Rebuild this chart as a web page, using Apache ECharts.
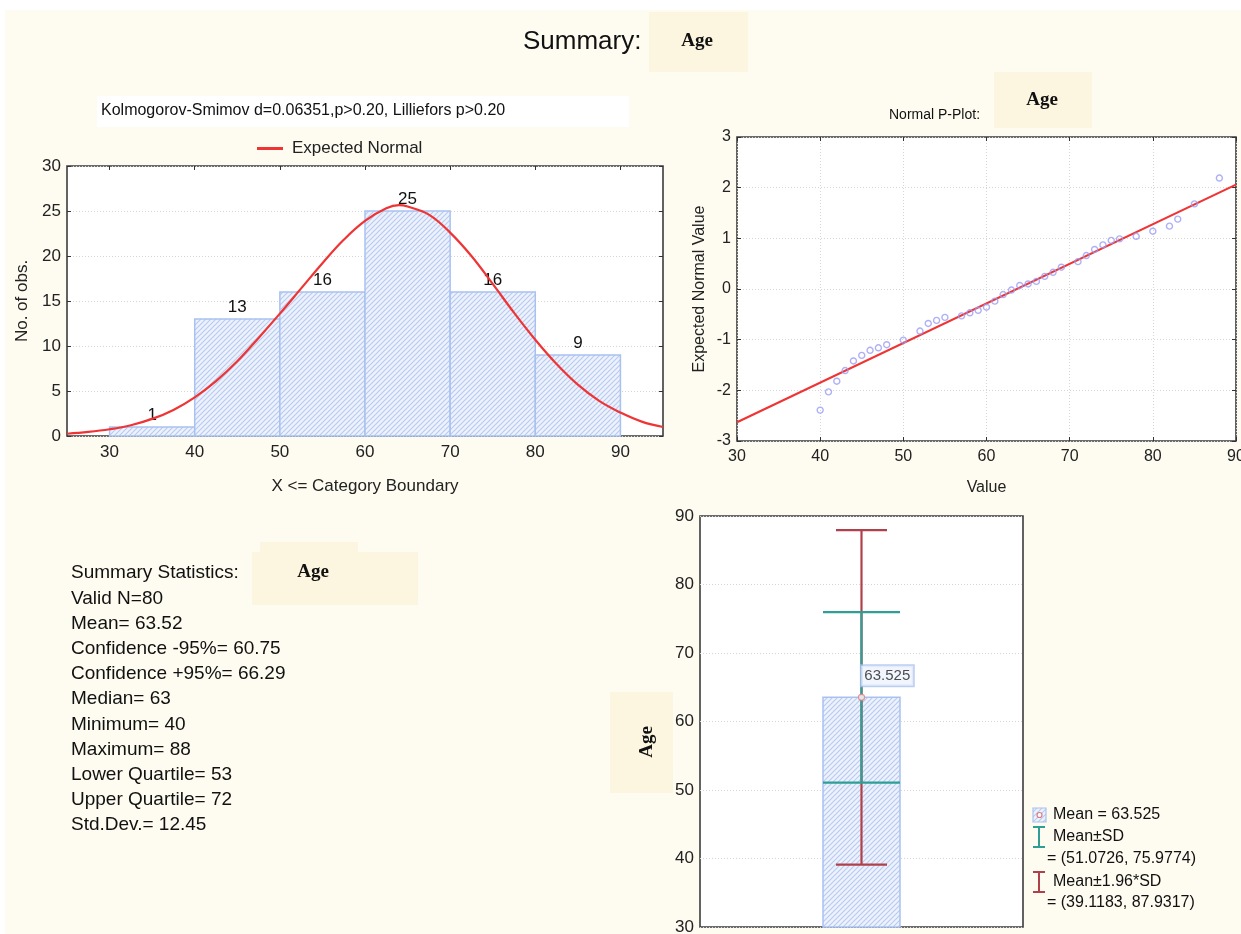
<!DOCTYPE html>
<html>
<head>
<meta charset="utf-8">
<script src="https://cdn.jsdelivr.net/npm/echarts@6/dist/echarts.min.js"></script>
<style>
html,body{margin:0;padding:0;background:#fff;}
#chart{width:1241px;height:934px;}
</style>
</head>
<body>
<div id="chart"></div>
<script>
// ---------- data ----------
const binStart = [30, 40, 50, 60, 70, 80];
const binEnd   = [40, 50, 60, 70, 80, 90];
const binCount = [1, 13, 16, 25, 16, 9];
const histXTicks = [30, 40, 50, 60, 70, 80, 90];

const normalX = [25, 27.5, 30, 32.5, 35, 37.5, 40, 42.5, 45, 47.5, 50, 52.5, 55, 57.5, 60, 62.5, 64, 65, 67.5, 70, 72.5, 75, 77.5, 80, 82.5, 85, 87.5, 90, 92.5, 95];
const normalY = [0.25, 0.45, 0.75, 1.2, 1.9, 2.9, 4.3, 6.1, 8.3, 10.9, 13.6, 16.4, 19.2, 21.8, 23.9, 25.3, 25.65, 25.5, 24.6, 22.6, 20.0, 16.9, 13.7, 10.7, 8.0, 5.7, 3.9, 2.6, 1.6, 1.0];

const ppX = [40, 41, 42, 43, 44, 45, 46, 47, 48, 50, 52, 53, 54, 55, 57, 58, 59, 60, 61, 62, 63, 64, 65, 66, 67, 68, 69, 71, 72, 73, 74, 75, 76, 78, 80, 82, 83, 85, 88];
const ppY = [-2.39, -2.03, -1.82, -1.61, -1.42, -1.31, -1.21, -1.16, -1.10, -1.01, -0.83, -0.68, -0.62, -0.56, -0.53, -0.47, -0.42, -0.36, -0.24, -0.11, -0.02, 0.07, 0.10, 0.15, 0.25, 0.33, 0.43, 0.54, 0.66, 0.78, 0.87, 0.96, 0.99, 1.04, 1.14, 1.24, 1.38, 1.68, 2.19];
const ppLineX = [30, 90];
const ppLineY = [-2.63, 2.06];

const meanAge = 63.525;
const sdRange = [51.0726, 75.9774];
const ciRange = [39.1183, 87.9317];

const statsLines = [
  'Summary Statistics:',
  'Valid N=80',
  'Mean= 63.52',
  'Confidence -95%= 60.75',
  'Confidence +95%= 66.29',
  'Median= 63',
  'Minimum= 40',
  'Maximum= 88',
  'Lower Quartile= 53',
  'Upper Quartile= 72',
  'Std.Dev.= 12.45'
];

// ---------- styles ----------
const SANS = 'Liberation Sans, Arial, sans-serif';
const SERIF = 'Liberation Serif, Times New Roman, serif';
const RED = '#ee3434';
const DARKRED = '#b0414b';
const TEAL = '#2f9f96';
const FRAME = '#3c3c3c';
const GRIDLINE = {show: true, lineStyle: {color: '#d6d6d6', type: [1, 2], width: 1}};
const NOLINE = {show: false, onZero: false};

function hatchCanvas() {
  const c = document.createElement('canvas');
  c.width = 5; c.height = 5;
  const g = c.getContext('2d');
  g.fillStyle = '#edf2fd';
  g.fillRect(0, 0, 5, 5);
  g.strokeStyle = '#b9cbf1';
  g.lineWidth = 1.2;
  g.beginPath();
  g.moveTo(-1, 6); g.lineTo(6, -1);
  g.moveTo(-1, 1); g.lineTo(1, -1);
  g.moveTo(4, 6); g.lineTo(6, 4);
  g.stroke();
  return c;
}
const hatch = {image: hatchCanvas(), repeat: 'repeat'};

const tickStyle = {inside: true, length: 4, lineStyle: {color: '#333', width: 1}};
const labelStyle = {color: '#222', fontSize: 17, fontFamily: SANS};

const chart = echarts.init(document.getElementById('chart'), null, {renderer: 'canvas'});

function errorBar(lo, hi, capHalf, color) {
  return function (params, api) {
    const pLo = api.coord([api.value(0), lo]);
    const pHi = api.coord([api.value(0), hi]);
    const x = pLo[0];
    const st = {stroke: color, lineWidth: 2.2};
    return {
      type: 'group',
      children: [
        {type: 'line', shape: {x1: x, y1: pLo[1], x2: x, y2: pHi[1]}, style: st},
        {type: 'line', shape: {x1: x - capHalf, y1: pLo[1], x2: x + capHalf, y2: pLo[1]}, style: st},
        {type: 'line', shape: {x1: x - capHalf, y1: pHi[1], x2: x + capHalf, y2: pHi[1]}, style: st}
      ]
    };
  };
}

const gridBase = {show: true, backgroundColor: '#fff', borderColor: FRAME, borderWidth: 1.6, containLabel: false, outerBoundsMode: 'none'};

const option = {
  backgroundColor: '#fefbf0',
  animation: false,
  textStyle: {fontFamily: SANS},
  legend: {
    data: ['Expected Normal'],
    left: 252, top: 135,
    icon: 'rect', itemWidth: 26, itemHeight: 3,
    textStyle: {fontSize: 17, color: '#222', fontFamily: SANS, padding: [0, 0, 0, 4]}
  },
  grid: [
    Object.assign({left: 67, top: 166, width: 596, height: 270}, gridBase),
    Object.assign({left: 737, top: 137, width: 499, height: 304}, gridBase),
    Object.assign({left: 700, top: 516, width: 323, height: 411}, gridBase)
  ],
  xAxis: [
    {gridIndex: 0, type: 'value', min: 25, max: 95,
      axisLine: NOLINE, splitLine: {show: false},
      axisTick: Object.assign({customValues: histXTicks}, tickStyle),
      axisLabel: Object.assign({customValues: histXTicks, margin: 8}, labelStyle),
      name: 'X <= Category Boundary', nameLocation: 'middle', nameGap: 42,
      nameTextStyle: {fontSize: 17, color: '#222', fontFamily: SANS}},
    {gridIndex: 0, type: 'value', position: 'top', min: 25, max: 95,
      axisLine: NOLINE, splitLine: {show: false}, axisLabel: {show: false},
      axisTick: Object.assign({customValues: histXTicks}, tickStyle)},
    {gridIndex: 1, type: 'value', position: 'bottom', min: 30, max: 90, interval: 10,
      axisLine: NOLINE, splitLine: GRIDLINE, axisTick: tickStyle,
      axisLabel: Object.assign({margin: 8}, labelStyle, {fontSize: 16}),
      name: 'Value', nameLocation: 'middle', nameGap: 39,
      nameTextStyle: {fontSize: 16, color: '#222', fontFamily: SANS}},
    {gridIndex: 1, type: 'value', position: 'top', min: 30, max: 90, interval: 10,
      axisLine: NOLINE, splitLine: {show: false}, axisLabel: {show: false}, axisTick: tickStyle},
    {gridIndex: 2, type: 'category', data: [''], position: 'bottom',
      axisLine: NOLINE, splitLine: {show: false}, axisLabel: {show: false},
      axisTick: Object.assign({alignWithLabel: true}, tickStyle)}
  ],
  yAxis: [
    {gridIndex: 0, type: 'value', position: 'left', min: 0, max: 30, interval: 5,
      axisLine: NOLINE, splitLine: GRIDLINE, axisTick: tickStyle,
      axisLabel: Object.assign({margin: 6}, labelStyle),
      name: 'No. of obs.', nameLocation: 'middle', nameGap: 36, nameRotate: 90,
      nameTextStyle: {fontSize: 17, color: '#222', fontFamily: SANS}},
    {gridIndex: 0, type: 'value', position: 'right', min: 0, max: 30, interval: 5,
      axisLine: NOLINE, splitLine: {show: false}, axisLabel: {show: false}, axisTick: tickStyle},
    {gridIndex: 1, type: 'value', position: 'left', min: -3, max: 3, interval: 1,
      axisLine: NOLINE, splitLine: GRIDLINE, axisTick: tickStyle,
      axisLabel: Object.assign({margin: 6}, labelStyle, {fontSize: 16}),
      name: 'Expected Normal Value', nameLocation: 'middle', nameGap: 29, nameRotate: 90,
      nameTextStyle: {fontSize: 16, color: '#222', fontFamily: SANS}},
    {gridIndex: 1, type: 'value', position: 'right', min: -3, max: 3, interval: 1,
      axisLine: NOLINE, splitLine: {show: false}, axisLabel: {show: false}, axisTick: tickStyle},
    {gridIndex: 2, type: 'value', position: 'left', min: 30, max: 90, interval: 10,
      axisLine: NOLINE, splitLine: GRIDLINE, axisTick: tickStyle,
      axisLabel: Object.assign({margin: 6}, labelStyle)},
    {gridIndex: 2, type: 'value', position: 'right', min: 30, max: 90, interval: 10,
      axisLine: NOLINE, splitLine: {show: false}, axisLabel: {show: false}, axisTick: tickStyle}
  ],
  series: [
    {
      type: 'custom', name: 'hist', xAxisIndex: 0, yAxisIndex: 0, z: 2,
      encode: {x: [0, 1], y: 2},
      data: binStart.map((s, i) => [s, binEnd[i], binCount[i]]),
      renderItem: function (params, api) {
        const p0 = api.coord([api.value(0), 0]);
        const p1 = api.coord([api.value(1), api.value(2)]);
        return {
          type: 'rect',
          shape: {x: p0[0], y: p1[1], width: p1[0] - p0[0], height: p0[1] - p1[1]},
          style: {fill: hatch, stroke: '#a9c1f0', lineWidth: 1.5},
          textContent: {style: {text: String(api.value(2)), fill: '#111', fontSize: 17, fontFamily: SANS}},
          textConfig: {position: 'top', distance: 2}
        };
      }
    },
    {
      type: 'line', name: 'Expected Normal', xAxisIndex: 0, yAxisIndex: 0, z: 5,
      data: normalX.map((x, i) => [x, normalY[i]]),
      smooth: 0.4, showSymbol: false, symbol: 'none',
      itemStyle: {color: RED}, lineStyle: {color: RED, width: 2.2}
    },
    {
      type: 'line', name: 'ref', xAxisIndex: 2, yAxisIndex: 2, z: 3,
      data: ppLineX.map((x, i) => [x, ppLineY[i]]),
      showSymbol: false, symbol: 'none',
      lineStyle: {color: RED, width: 2.2}
    },
    {
      type: 'scatter', name: 'pp', xAxisIndex: 2, yAxisIndex: 2, z: 4,
      data: ppX.map((x, i) => [x, ppY[i]]),
      symbol: 'circle', symbolSize: 6,
      itemStyle: {color: 'rgba(255,255,255,0)', borderColor: '#9a9cf4', borderWidth: 1.4}
    },
    {
      type: 'custom', name: 'meanbar', xAxisIndex: 4, yAxisIndex: 4, z: 2,
      data: [[0, meanAge]],
      renderItem: function (params, api) {
        const base = api.coord([api.value(0), 30]);
        const top = api.coord([api.value(0), api.value(1)]);
        const hw = 38.5;
        return {
          type: 'rect',
          shape: {x: base[0] - hw, y: top[1], width: 2 * hw, height: base[1] - top[1]},
          style: {fill: hatch, stroke: '#a9c1f0', lineWidth: 1.5}
        };
      }
    },
    {
      type: 'custom', name: 'ci', xAxisIndex: 4, yAxisIndex: 4, z: 3,
      data: [[0]],
      renderItem: errorBar(ciRange[0], ciRange[1], 25.5, DARKRED)
    },
    {
      type: 'custom', name: 'sd', xAxisIndex: 4, yAxisIndex: 4, z: 4,
      data: [[0]],
      renderItem: errorBar(sdRange[0], sdRange[1], 38.5, TEAL)
    },
    {
      type: 'scatter', name: 'mean', xAxisIndex: 4, yAxisIndex: 4, z: 6,
      data: [[0, meanAge]],
      symbol: 'circle', symbolSize: 6,
      itemStyle: {color: '#fff', borderColor: '#e07a80', borderWidth: 1.3},
      label: {
        show: true, formatter: p => String(p.value[1]),
        position: [3.5, -28], fontSize: 15, color: '#222', fontFamily: SANS,
        backgroundColor: '#eef3fd', borderColor: '#a9c1f0', borderWidth: 1.5,
        padding: [3, 3, 2, 3]
      }
    }
  ],
  graphic: [
    {type: 'rect', shape: {x: 0, y: 0, width: 1241, height: 10}, style: {fill: '#fff'}, silent: true},
    {type: 'rect', shape: {x: 0, y: 0, width: 5, height: 934}, style: {fill: '#fff'}, silent: true},
    // title
    {type: 'text', x: 523, y: 42, style: {text: 'Summary:', fontSize: 26, fontFamily: SANS, fill: '#111', verticalAlign: 'middle'}},
    {type: 'rect', shape: {x: 649, y: 12, width: 99, height: 60}, style: {fill: '#fcf5df'}},
    {type: 'text', x: 697, y: 41, style: {text: 'Age', fontSize: 19, fontWeight: 'bold', fontFamily: SERIF, fill: '#111', align: 'center', verticalAlign: 'middle'}},
    // KS box
    {type: 'rect', shape: {x: 97, y: 96, width: 532, height: 31}, style: {fill: '#fff'}},
    {type: 'text', x: 101, y: 111, style: {text: 'Kolmogorov-Smimov d=0.06351,p>0.20, Lilliefors p>0.20', fontSize: 16, fontFamily: SANS, fill: '#111', verticalAlign: 'middle'}},
    // P-plot title
    {type: 'text', x: 889, y: 115, style: {text: 'Normal P-Plot:', fontSize: 14, fontFamily: SANS, fill: '#111', verticalAlign: 'middle'}},
    {type: 'rect', shape: {x: 994, y: 72, width: 98, height: 56}, style: {fill: '#fcf5df'}},
    {type: 'text', x: 1042, y: 100, style: {text: 'Age', fontSize: 19, fontWeight: 'bold', fontFamily: SERIF, fill: '#111', align: 'center', verticalAlign: 'middle'}},
    // summary statistics
    {type: 'rect', shape: {x: 260, y: 542, width: 98, height: 12}, style: {fill: '#fcf5df'}},
    {type: 'rect', shape: {x: 252, y: 552, width: 166, height: 53}, style: {fill: '#fcf5df'}},
    {type: 'text', x: 313, y: 572, style: {text: 'Age', fontSize: 19, fontWeight: 'bold', fontFamily: SERIF, fill: '#111', align: 'center', verticalAlign: 'middle'}},
    {type: 'text', x: 71, y: 560.5, style: {text: statsLines.join('\n'), fontSize: 19, lineHeight: 25.2, fontFamily: SANS, fill: '#111', verticalAlign: 'top'}},
    // box chart y label
    {type: 'rect', shape: {x: 610, y: 692, width: 63, height: 101}, style: {fill: '#fcf5df'}},
    {type: 'text', x: 647, y: 742, rotation: Math.PI / 2, style: {text: 'Age', fontSize: 19, fontWeight: 'bold', fontFamily: SERIF, fill: '#111', align: 'center', verticalAlign: 'middle'}},
    // box chart legend
    {type: 'rect', shape: {x: 1033, y: 808, width: 13, height: 14}, style: {fill: hatch, stroke: '#a9c1f0', lineWidth: 1.2}},
    {type: 'circle', shape: {cx: 1039.5, cy: 815, r: 2.5}, style: {fill: '#fff', stroke: '#e07a80', lineWidth: 1.2}},
    {type: 'text', x: 1053, y: 815, style: {text: 'Mean = ' + meanAge, fontSize: 16, fontFamily: SANS, fill: '#111', verticalAlign: 'middle'}},
    {type: 'polyline', shape: {points: [[1033, 827], [1045, 827]]}, style: {stroke: TEAL, lineWidth: 2}},
    {type: 'polyline', shape: {points: [[1039, 827], [1039, 847]]}, style: {stroke: TEAL, lineWidth: 2}},
    {type: 'polyline', shape: {points: [[1033, 847], [1045, 847]]}, style: {stroke: TEAL, lineWidth: 2}},
    {type: 'text', x: 1053, y: 837, style: {text: 'Mean\u00b1SD', fontSize: 16, fontFamily: SANS, fill: '#111', verticalAlign: 'middle'}},
    {type: 'text', x: 1047, y: 859, style: {text: '= (' + sdRange[0] + ', ' + sdRange[1] + ')', fontSize: 16, fontFamily: SANS, fill: '#111', verticalAlign: 'middle'}},
    {type: 'polyline', shape: {points: [[1033, 872], [1045, 872]]}, style: {stroke: DARKRED, lineWidth: 2}},
    {type: 'polyline', shape: {points: [[1039, 872], [1039, 892]]}, style: {stroke: DARKRED, lineWidth: 2}},
    {type: 'polyline', shape: {points: [[1033, 892], [1045, 892]]}, style: {stroke: DARKRED, lineWidth: 2}},
    {type: 'text', x: 1053, y: 882, style: {text: 'Mean\u00b11.96*SD', fontSize: 16, fontFamily: SANS, fill: '#111', verticalAlign: 'middle'}},
    {type: 'text', x: 1047, y: 903, style: {text: '= (' + ciRange[0] + ', ' + ciRange[1] + ')', fontSize: 16, fontFamily: SANS, fill: '#111', verticalAlign: 'middle'}}
  ]
};
chart.setOption(option);
</script>
</body>
</html>
